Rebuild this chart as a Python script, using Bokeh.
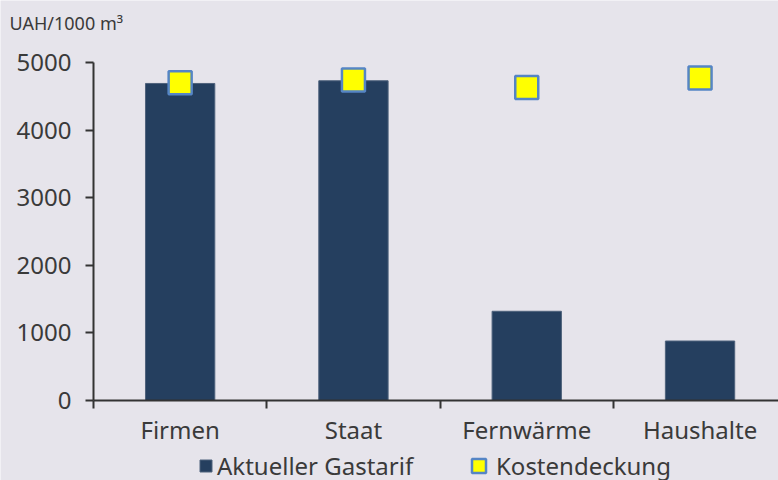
from bokeh.plotting import figure
from bokeh.models import FixedTicker, Legend, LegendItem, Range1d, Label, LinearAxis
from bokeh.embed import file_html
from bokeh.resources import INLINE

# Gas tariff per 1000 m³ by consumer group
categories = ["Firmen", "Staat", "Fernwärme", "Haushalte"]
aktueller_gastarif = [4690, 4730, 1320, 880]
kostendeckung = [4700, 4740, 4630, 4770]
y_ticks = [0, 1000, 2000, 3000, 4000, 5000]
unit_label = "UAH/1000 m³"

BG = "#E6E4EB"
TEXT = "#3A3A3A"
AXIS = "#333333"
FONT = "Noto Sans"

W, H = 778, 480
AXIS_X = 93                 # pixel column of the value axis
AXIS_Y = 400                # pixel row of the value 0
TOP_Y = 62                  # pixel row of the value 5000
CAT_PX = 173.3              # width of one category slot
Y_MAX = 5000

xs = [i + 0.5 for i in range(len(categories))]
boundaries = list(range(len(categories) + 1))

# the frame fills the whole canvas; both axes are pinned inside it
units_per_px = Y_MAX / (AXIS_Y - TOP_Y)
y_range = Range1d(-(H - AXIS_Y) * units_per_px, Y_MAX + TOP_Y * units_per_px)
x_range = Range1d(-AXIS_X / CAT_PX, (W - AXIS_X) / CAT_PX)

p = figure(width=W, height=H, output_backend="svg", toolbar_location=None,
           x_range=x_range, y_range=y_range,
           x_axis_location=None, y_axis_location=None,
           min_border=0)
p.background_fill_color = BG
p.border_fill_color = BG
p.outline_line_color = None
p.xgrid.visible = False
p.ygrid.visible = False

bars = p.vbar(x=xs, top=aktueller_gastarif, width=0.4, fill_color="#253F5F",
              line_color="#4F627C", line_width=1)
squares = p.scatter(x=xs, y=kostendeckung, marker="square", size=23,
                    fill_color="#FFFF00", line_color="#5585C5", line_width=2.5)

# category axis at y = 0: labels at centres, ticks at slot boundaries
xa = LinearAxis(fixed_location=0, bounds=(0, x_range.end))
xa.ticker = FixedTicker(ticks=xs, minor_ticks=boundaries)
xa.major_label_overrides = {x: c for x, c in zip(xs, categories)}
xa.major_tick_in = 0
xa.major_tick_out = 0
xa.minor_tick_in = 0
xa.minor_tick_out = 8
xa.minor_tick_line_width = 2
xa.minor_tick_line_color = AXIS
xa.axis_line_width = 2
xa.axis_line_color = AXIS
xa.major_label_text_font = FONT
xa.major_label_text_font_size = "24px"
xa.major_label_text_color = TEXT
xa.major_label_standoff = 4
p.add_layout(xa, "below")

# value axis at x = 0
ya = LinearAxis(fixed_location=0, bounds=(0, Y_MAX))
ya.ticker = FixedTicker(ticks=y_ticks, minor_ticks=[])
ya.major_tick_in = 0
ya.major_tick_out = 8
ya.major_tick_line_width = 2
ya.major_tick_line_color = AXIS
ya.axis_line_width = 2
ya.axis_line_color = AXIS
ya.major_label_text_font = FONT
ya.major_label_text_font_size = "24px"
ya.major_label_text_color = TEXT
ya.major_label_standoff = 14
p.add_layout(ya, "left")

# unit label above the value axis
p.add_layout(Label(x=9, y=H - 22, x_units="screen", y_units="screen",
                   text=unit_label, text_baseline="middle",
                   text_font=FONT, text_font_size="18px", text_color=TEXT))

legend_style = dict(orientation="horizontal", label_text_font=FONT,
                    label_text_font_size="24px", label_text_color=TEXT,
                    padding=0, margin=0, border_line_color=None,
                    background_fill_alpha=0)
bar_legend = Legend(items=[LegendItem(label="Aktueller Gastarif", renderers=[bars])],
                    location=(198, -2), glyph_width=15, glyph_height=15,
                    label_standoff=4, **legend_style)
square_legend = Legend(items=[LegendItem(label="Kostendeckung", renderers=[squares])],
                       location=(461, -3), glyph_width=35, glyph_height=35,
                       label_standoff=-6, **legend_style)
p.add_layout(bar_legend)
p.add_layout(square_legend)

open("out.html", "w").write(file_html(p, INLINE))
